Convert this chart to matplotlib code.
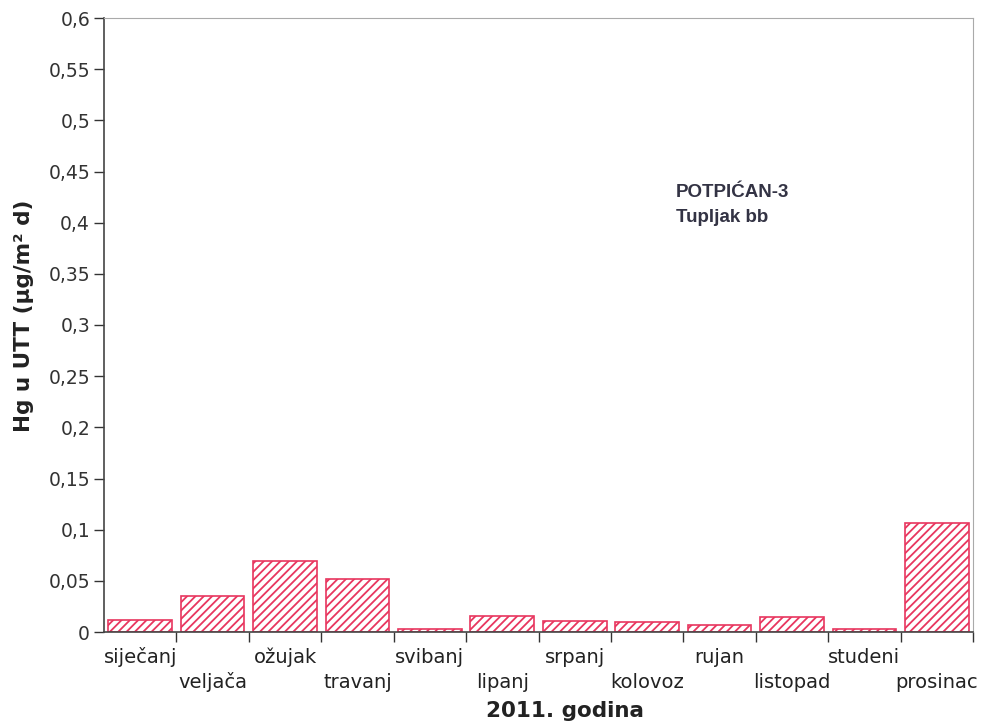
import matplotlib
matplotlib.use("Agg")
import matplotlib.pyplot as plt
from matplotlib.ticker import FixedLocator, FuncFormatter
import matplotlib.transforms as mtransforms

plt.rcParams['font.family'] = ['DejaVu Sans']
plt.rcParams['hatch.linewidth'] = 1.3

months = ["siječanj", "veljača", "ožujak", "travanj", "svibanj", "lipanj",
          "srpanj", "kolovoz", "rujan", "listopad", "studeni", "prosinac"]
values = [0.012, 0.035, 0.069, 0.052, 0.003, 0.016,
          0.011, 0.0095, 0.0065, 0.015, 0.003, 0.107]
yticks = [0, 0.05, 0.1, 0.15, 0.2, 0.25, 0.3, 0.35, 0.4, 0.45, 0.5, 0.55, 0.6]

red = '#e8365f'

fig = plt.figure(figsize=(9.84, 7.24), dpi=100)
ax = fig.add_axes([104/984, 1 - 632/724, (973-104)/984, (632-18)/724])

x = list(range(len(months)))
ax.bar(x, values, width=0.88, color='white', edgecolor=red, hatch='////', linewidth=1.2)

ax.set_xlim(-0.5, len(months) - 0.5)
ax.set_ylim(0, 0.6)
ax.yaxis.set_major_locator(FixedLocator(yticks))
ax.yaxis.set_major_formatter(FuncFormatter(lambda v, p: ('%g' % round(v, 2)).replace('.', ',')))
ax.tick_params(axis='y', direction='out', length=7, width=1, labelsize=13.5, colors='#333333', pad=3)

bounds = [i + 0.5 for i in range(len(months))]
ax.set_xticks(bounds)
ax.set_xticklabels([])
ax.tick_params(axis='x', direction='out', length=7, width=1, colors='#333333')

trans = mtransforms.blended_transform_factory(ax.transData, ax.transAxes)
for i, m in enumerate(months):
    off = -22.3 if i % 2 == 0 else -40.3
    ax.annotate(m, xy=(i, 0), xycoords=trans, xytext=(0, off), textcoords='offset points',
                ha='center', va='baseline', fontsize=14, color='#222222')

fig.text(565/984, 1 - 717/724, "2011. godina", ha='center', va='baseline', fontsize=15.5,
         fontweight='bold', color='#222222')
fig.text(24/984, 1 - 316/724, "Hg u UTT (µg/m² d)", rotation=90, ha='center', va='center',
         fontsize=15.5, fontweight='bold', color='#222222')

ax.text(0.658, 0.729, "POTPIĆAN-3\nTupljak bb", transform=ax.transAxes, ha='left', va='top',
        fontsize=13.5, fontweight='bold', color='#333344', linespacing=1.55,
        family='Liberation Sans')

for s in ['left', 'bottom']:
    ax.spines[s].set_color('#444444')
    ax.spines[s].set_linewidth(1.2)
for s in ['top', 'right']:
    ax.spines[s].set_color('#aaaaaa')
    ax.spines[s].set_linewidth(0.8)
ax.spines['top'].set_linestyle((0, (1, 1)))

fig.savefig("out.png", dpi=100)
